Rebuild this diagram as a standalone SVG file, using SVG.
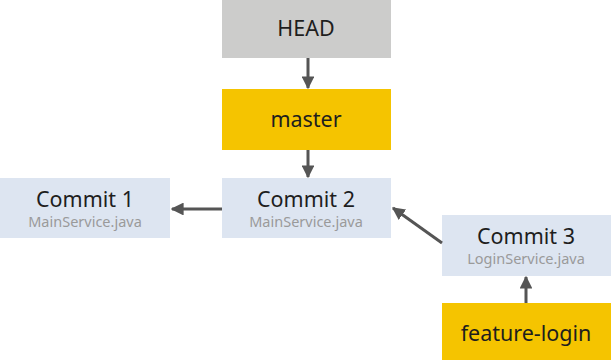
<svg xmlns="http://www.w3.org/2000/svg" width="611" height="360" viewBox="0 0 611 360">
<style>
.t{font-family:"Noto Sans","Noto Sans CJK KR",sans-serif;font-size:21.5px;fill:#1e1e1e;text-anchor:middle}
.s{font-family:"Noto Sans","Noto Sans CJK KR",sans-serif;font-size:14.5px;fill:#9a9a9a;text-anchor:middle}
.commit{fill:#dde5f1}
.branch{fill:#f5c400}
.head{fill:#cccccb}
.c{stroke:#555;stroke-width:3;fill:none;marker-end:url(#a)}
</style>
<defs>
<marker id="a" viewBox="0 0 10 10" refX="9" refY="5" markerWidth="4.3" markerHeight="4.3" orient="auto" markerUnits="strokeWidth">
<path d="M0,0 L10,5 L0,10 z" fill="#555"/>
</marker>
</defs>
<rect width="611" height="360" fill="#fff"/>
<g id="head"><rect class="head" x="222" y="0" width="169" height="58"/><text class="t" x="306" y="36">HEAD</text></g>
<g id="master"><rect class="branch" x="222" y="89" width="169" height="61"/><text class="t" x="306" y="127">master</text></g>
<g id="commit1"><rect class="commit" x="0" y="178" width="170" height="60"/><text class="t" x="85" y="207">Commit 1</text><text class="s" x="85" y="227">MainService.java</text></g>
<g id="commit2"><rect class="commit" x="222" y="178" width="169" height="60"/><text class="t" x="306" y="207">Commit 2</text><text class="s" x="306" y="227">MainService.java</text></g>
<g id="commit3"><rect class="commit" x="442" y="215" width="169" height="61"/><text class="t" x="526" y="244">Commit 3</text><text class="s" x="526" y="264">LoginService.java</text></g>
<g id="feature-login"><rect class="branch" x="442" y="303" width="169" height="57"/><text class="t" x="526" y="341">feature-login</text></g>
<g id="connectors">
<line class="c" x1="308" y1="58" x2="308" y2="88"/>
<line class="c" x1="308" y1="150" x2="308" y2="177"/>
<line class="c" x1="222" y1="209" x2="172" y2="209"/>
<line class="c" x1="442" y1="243" x2="393" y2="208"/>
<line class="c" x1="526" y1="303" x2="526" y2="277"/>
</g>
</svg>
